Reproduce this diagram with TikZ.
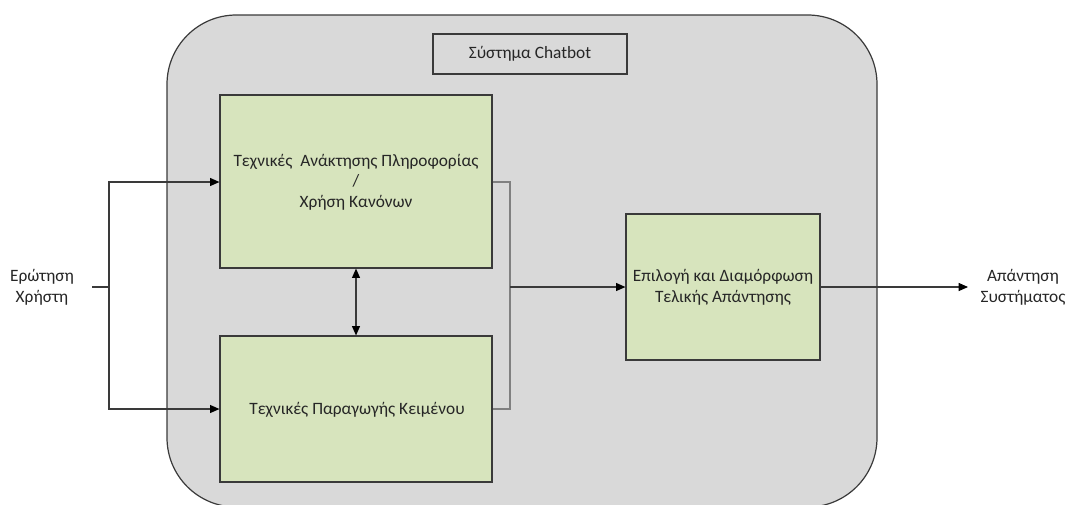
\documentclass[tikz,border=0pt]{standalone}
\usepackage{fontspec}
\setmainfont{Carlito}
\usetikzlibrary{arrows.meta}
\definecolor{sysgray}{HTML}{D9D9D9}
\definecolor{boxgreen}{HTML}{D7E4BD}
\definecolor{edge}{HTML}{3A3A3A}
\definecolor{ink}{HTML}{262626}
\begin{document}
\begin{tikzpicture}[x=0.75pt,y=-0.75pt,
  font=\fontsize{13}{15.5}\selectfont, text=ink,
  block/.style={draw=edge,line width=0.9pt,fill=boxgreen,inner sep=0pt},
  wire/.style={draw=edge,line width=0.8pt},
  arr/.style={wire,-{Triangle[length=7pt,width=6pt,color=black]}},
  darr/.style={wire,{Triangle[length=7pt,width=6pt,color=black]}-{Triangle[length=7pt,width=6pt,color=black]}}]
  \useasboundingbox (0,0) rectangle (1069,504);
  % system boundary
  \draw[draw=edge,line width=0.9pt,fill=sysgray,rounded corners=52pt] (167,15) rectangle (877,507);
  \node[draw=edge,line width=0.9pt,minimum width=145.5pt,minimum height=30pt,inner sep=0pt] (title) at (530,54) {Σύστημα Chatbot};
  % processing blocks
  \node[block,minimum width=204pt,minimum height=129.75pt] (ret) at (356,181.5) {};
  \node[align=center] at (356,182) {Τεχνικές \ Ανάκτησης Πληροφορίας\\/\\Χρήση Κανόνων};
  \node[block,minimum width=204pt,minimum height=109.5pt] (gen) at (356,409) {};
  \node at (357,410) {Τεχνικές Παραγωγής Κειμένου};
  \node[block,minimum width=145.5pt,minimum height=109.5pt,align=center] (sel) at (723,287) {Επιλογή και Διαμόρφωση\\Τελικής Απάντησης};
  % external texts
  \node[align=center] (in) at (42,287) {Ερώτηση\\Χρήστη};
  \node[align=center] (out) at (1023,287) {Απάντηση\\Συστήματος};
  % junction points
  \coordinate (split) at (109,287);
  \coordinate (merge) at (510,287);
  % input fan-out
  \draw[wire] (92,287) -- (split);
  \draw[arr] (split) |- (ret.west |- 0,182);
  \draw[arr] (split) |- (gen.west |- 0,409);
  % merge of the two blocks
  \draw[wire,draw=gray] (ret.east |- 0,182) -| (merge) |- (gen.east |- 0,409);
  \draw[arr] (merge) -- (sel.west);
  \draw[arr] (sel.east) -- (968,287);
  % exchange between the blocks
  \draw[darr] (ret.south) -- (gen.north);
\end{tikzpicture}
\end{document}
